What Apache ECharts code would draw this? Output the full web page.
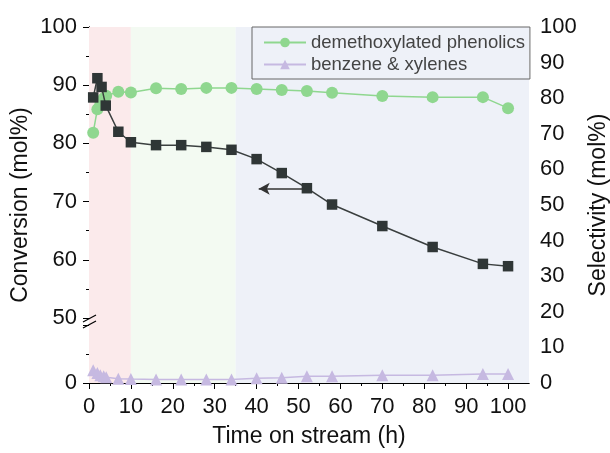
<!DOCTYPE html>
<html><head><meta charset="utf-8">
<script src="https://cdn.jsdelivr.net/npm/echarts@6/dist/echarts.min.js"></script>
<style>html,body{margin:0;padding:0;background:#fff}#c{width:610px;height:453px}</style>
</head><body><div id="c"></div>
<script>
// ---- data ----
const convTime = [1, 2, 3, 4, 7, 10, 16, 22, 28, 34, 40, 46, 52, 58, 70, 82, 94, 100];
const conversion = [87.9, 91.2, 89.7, 86.5, 82.0, 80.2, 79.7, 79.7, 79.4, 78.9, 77.3, 74.9, 72.3, 69.5, 65.8, 62.2, 59.3, 58.9];
const selTime = [1, 2, 2.7, 3.5, 4.1, 7, 10, 16, 22, 28, 34, 40, 46, 52, 58, 70, 82, 94, 100];
const phenolics = [70.3, 76.9, 78.3, 80.0, 80.7, 81.8, 81.6, 82.8, 82.6, 82.9, 82.9, 82.6, 82.3, 82.0, 81.5, 80.6, 80.3, 80.3, 77.2];
const benzene = [3.6, 2.8, 2.2, 1.9, 1.6, 1.2, 1.1, 1.0, 1.0, 1.0, 1.0, 1.3, 1.5, 1.9, 1.9, 2.2, 2.2, 2.5, 2.5];
const xMajorTicks = [0, 10, 20, 30, 40, 50, 60, 70, 80, 90, 100];
const xMinorTicks = [5, 15, 25, 35, 45, 55, 65, 75, 85, 95];
const bandEdges = [0, 10, 35, 105];
const arrowFrom = [51.5, 72.2];
const arrowTo = [40.5, 72.2];
const seriesNames = ['Conversion', 'demethoxylated phenolics', 'benzene & xylenes'];

// ---- style ----
const FONT = 'Liberation Sans, Arial, sans-serif';
const bandColors = ['#fbeaeb', '#f3faf2', '#eef1f8'];
const cConv = '#2f3636', cGreen = '#8fd78f', cPurple = '#c6b9e1';
const pair = (xs, ys) => xs.map((x, i) => [x, ys[i]]);

const G = {left: 89, right: 81, outerBoundsMode: 'none', containLabel: false};
const chart = echarts.init(document.getElementById('c'), null, {renderer: 'canvas'});
const axisLine = {show: true, lineStyle: {color: '#000', width: 1}};
const tick = {show: true, length: 6, lineStyle: {color: '#000'}};
const minor = {show: true, splitNumber: 2, length: 3, lineStyle: {color: '#000'}};
const lbl = {fontSize: 22, color: '#111', fontFamily: FONT};
const ttl = {fontSize: 23, color: '#111', fontFamily: FONT};

chart.setOption({
  animation: false,
  textStyle: {fontFamily: FONT},
  grid: [
    Object.assign({top: 27, bottom: 70}, G),
    Object.assign({top: 27, height: 291}, G),
    Object.assign({top: 325, height: 58}, G)
  ],
  xAxis: [
    {gridIndex: 0, type: 'value', min: 0, max: 105, interval: 10, position: 'bottom',
     axisLine, axisTick: Object.assign({customValues: xMajorTicks}, tick),
     axisLabel: Object.assign({customValues: xMajorTicks, margin: 13}, lbl),
     splitLine: {show: false},
     name: 'Time on stream (h)', nameLocation: 'middle', nameGap: 42, nameTextStyle: ttl},
    {gridIndex: 0, type: 'value', min: 0, max: 105, position: 'top',
     axisLine, axisTick: {show: false}, axisLabel: {show: false}, splitLine: {show: false}},
    {gridIndex: 0, type: 'value', min: 0, max: 105, position: 'bottom',
     axisLine: {show: false}, axisTick: {show: true, customValues: xMinorTicks, length: 3, lineStyle: {color: '#000'}},
     axisLabel: {show: false}, splitLine: {show: false}},
    {gridIndex: 1, type: 'value', min: 0, max: 105, show: false},
    {gridIndex: 2, type: 'value', min: 0, max: 105, show: false}
  ],
  yAxis: [
    {gridIndex: 0, type: 'value', min: 0, max: 100, interval: 10, position: 'right',
     axisLine, axisTick: tick, minorTick: minor, axisLabel: Object.assign({margin: 11}, lbl),
     splitLine: {show: false},
     name: 'Selectivity (mol%)', nameLocation: 'middle', nameGap: 51, nameTextStyle: ttl},
    {gridIndex: 0, type: 'value', min: 0, max: 100, position: 'left',
     axisLine: {show: false}, axisTick: {show: false}, axisLabel: {show: false}, splitLine: {show: false},
     name: 'Conversion (mol%)', nameLocation: 'middle', nameGap: 57, nameTextStyle: ttl},
    {gridIndex: 1, type: 'value', min: 50, max: 100, interval: 10, position: 'left',
     axisLine, axisTick: tick, minorTick: minor, axisLabel: Object.assign({margin: 12}, lbl),
     splitLine: {show: false}},
    {gridIndex: 2, type: 'value', min: 0, max: 50, interval: 50, position: 'left',
     axisLine, axisTick: tick, minorTick: minor,
     axisLabel: Object.assign({margin: 12, formatter: v => (v === 50 ? '' : String(v))}, lbl),
     splitLine: {show: false}}
  ],
  legend: {
    data: [seriesNames[1], seriesNames[2]], orient: 'vertical', left: 252, top: 27,
    itemWidth: 42, itemHeight: 12, itemGap: 3, padding: [6, 5, 5, 11],
    borderColor: '#666', borderWidth: 1,
    textStyle: {fontSize: 18.5, color: '#444', fontFamily: FONT}
  },
  graphic: [
    {type: 'line', shape: {x1: 83, y1: 322, x2: 96, y2: 315}, style: {stroke: '#000', lineWidth: 1.2}, z: 100},
    {type: 'line', shape: {x1: 83, y1: 328, x2: 96, y2: 321}, style: {stroke: '#000', lineWidth: 1.2}, z: 100}
  ],
  series: [
    {name: seriesNames[0], type: 'line', xAxisIndex: 3, yAxisIndex: 2, data: pair(convTime, conversion),
     symbol: 'rect', symbolSize: 10.5, itemStyle: {color: cConv}, lineStyle: {color: '#3a3f3f', width: 1.5}, z: 5,
     markLine: {silent: true, symbol: ['none', 'arrow'], symbolSize: [9, 11],
       lineStyle: {color: '#333', width: 1.5, type: 'solid'}, label: {show: false},
       data: [[{coord: arrowFrom}, {coord: arrowTo}]]}},
    {name: seriesNames[1], type: 'line', xAxisIndex: 0, yAxisIndex: 0, data: pair(selTime, phenolics),
     symbol: 'circle', symbolSize: 12, itemStyle: {color: cGreen}, lineStyle: {color: cGreen, width: 1.5}, z: 4,
     markArea: {silent: true, data: bandColors.map((c, i) => [{xAxis: bandEdges[i], itemStyle: {color: c}}, {xAxis: bandEdges[i + 1]}])}},
    {name: seriesNames[2], type: 'line', xAxisIndex: 0, yAxisIndex: 0, data: pair(selTime, benzene),
     symbol: 'triangle', symbolSize: 12, itemStyle: {color: cPurple}, lineStyle: {color: cPurple, width: 1.5}, z: 4}
  ]
});
</script></body></html>
